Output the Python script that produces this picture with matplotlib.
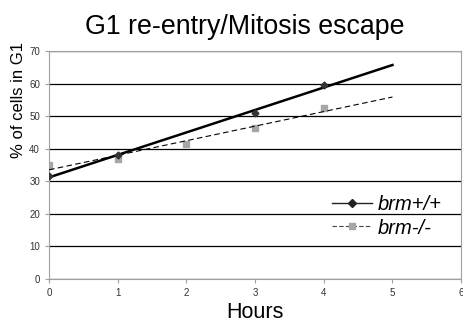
import numpy as np
import matplotlib
matplotlib.use("Agg")
import matplotlib.pyplot as plt

# values
hours_wt = [0, 1, 3, 4]
pct_wt = [31.5, 38.0, 51.0, 59.5]
hours_ko = [0, 1, 2, 3, 4]
pct_ko = [35.0, 36.8, 41.5, 46.5, 52.5]
trend_x = [0, 5]

plt.rcParams['font.family'] = ['Liberation Sans', 'DejaVu Sans']

fig = plt.figure(figsize=(4.63, 3.29), dpi=100)
ax = fig.add_axes([0.106, 0.152, 0.89, 0.693])

# linear trend lines (like the spreadsheet trendline)
k1, b1 = np.polyfit(hours_wt, pct_wt, 1)
k2, b2 = np.polyfit(hours_ko, pct_ko, 1)
tx = np.array(trend_x)

ax.plot(tx, k1 * tx + b1, color='black', lw=1.8, zorder=3)
ax.plot(tx, k2 * tx + b2, color='black', lw=0.8, ls=(0, (5, 3)), zorder=3)
ax.plot(hours_wt, pct_wt, ls='none', marker='D', ms=3.5, color='#333333', zorder=4)
ax.plot(hours_ko, pct_ko, ls='none', marker='s', ms=4.5, color='#a6a6a6', zorder=2)

# legend handles
h1, = ax.plot([], [], color='#222222', lw=1, marker='D', ms=4)
h2, = ax.plot([], [], color='#444444', lw=0.8, ls=(0, (4, 2)), marker='s', ms=5,
              mfc='#a6a6a6', mec='#a6a6a6')
leg = ax.legend([h1, h2], ['brm+/+', 'brm-/-'], loc='center left',
                bbox_to_anchor=(0.687, 0.275), frameon=False, handlelength=2.0,
                handletextpad=0.25, labelspacing=0.22, borderpad=0, borderaxespad=0,
                prop={'style': 'italic', 'size': 14.5})

ax.set_xlim(0, 6)
ax.set_ylim(0, 70)
ax.set_xticks(range(0, 7))
ax.set_yticks(range(0, 71, 10))
ax.yaxis.grid(True, color='black', lw=0.9)
ax.set_axisbelow(True)
for s in ax.spines.values():
    s.set_color('#a0a0a0')
ax.tick_params(colors='#a0a0a0', labelcolor='#333333', labelsize=7, length=3, width=0.8)

ax.set_title('G1 re-entry/Mitosis escape', fontsize=19.3, x=0.476, pad=12)
ax.set_xlabel('Hours', fontsize=15.5, labelpad=3)
ax.set_ylabel('% of cells in G1', fontsize=12)
ax.yaxis.set_label_coords(-0.055, 0.785)

fig.savefig('out.png', dpi=100)
